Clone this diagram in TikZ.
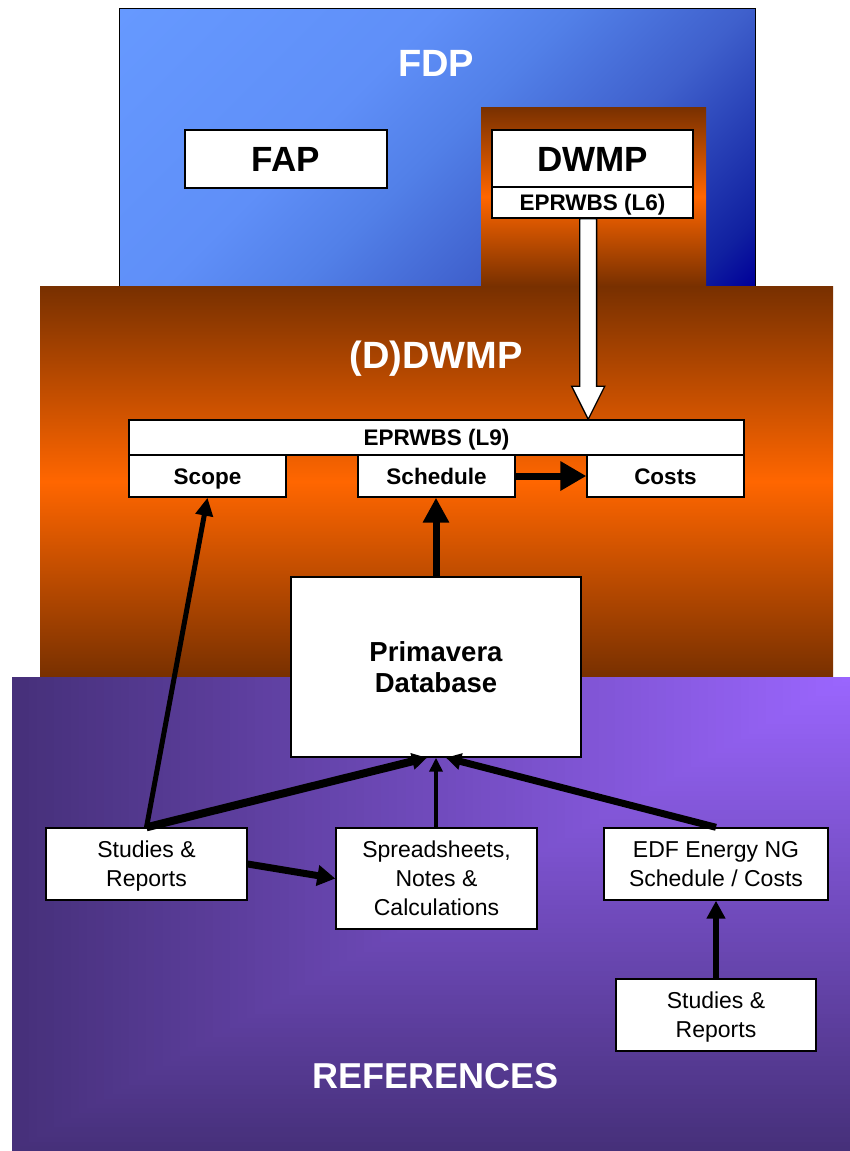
\documentclass[tikz,border=0pt]{standalone}
\usepackage{fontspec}
\setmainfont{Liberation Sans}
\usetikzlibrary{arrows.meta,calc}

\definecolor{brownD}{RGB}{120,48,0}
\definecolor{orangeM}{RGB}{255,102,0}
\definecolor{blueA}{RGB}{102,153,255}
\definecolor{blueB}{RGB}{95,143,248}
\definecolor{blueC}{RGB}{82,128,232}
\definecolor{blueE}{RGB}{63,96,204}
\definecolor{blueF}{RGB}{16,32,160}
\definecolor{blueG}{RGB}{0,0,153}
\definecolor{purpleL}{RGB}{155,102,255}
\definecolor{purpleD}{RGB}{70,48,122}

% diagonal blue gradient for the FDP panel
\pgfdeclarehorizontalshading{fdpshade}{100bp}{color(0bp)=(blueA); color(14.64bp)=(blueA);
  color(39.4bp)=(blueB); color(50bp)=(blueC); color(63.4bp)=(blueE);
  color(80.4bp)=(blueF); color(85.36bp)=(blueG); color(100bp)=(blueG)}

\newcommand\ftitle{\fontsize{38}{44}\selectfont\bfseries}
\newcommand\fhead{\fontsize{35}{40}\selectfont\bfseries}
\newcommand\fbar{\fontsize{22.5}{26}\selectfont\bfseries}
\newcommand\fprim{\fontsize{27.5}{31.5}\selectfont\bfseries}
\newcommand\fref{\fontsize{23}{28.8}\selectfont}

\begin{document}
\begin{tikzpicture}[x=1pt,y=-1pt,
  % text boxes run from the cap line of the first row to the baseline of the last,
  % so the lettering sits optically centred in each box
  box/.style={draw=black, line width=1.4pt, fill=white, inner sep=0pt, align=center,
    text depth=0pt},
  bhead/.style={box, font=\fhead, text height=25.1pt},
  bbar/.style={box, font=\fbar, text height=16.1pt},
  bprim/.style={box, font=\fprim, text height=51.2pt},
  bref/.style={box, font=\fref, text height=#1},
  title/.style={text=white, font=\ftitle, anchor=base, inner sep=0pt},
  hollow/.style={draw=black, line width=1.3pt, fill=white, line join=miter}]
\useasboundingbox (0,0) rectangle (850,1151);

% FDP panel
\path[shade, shading=fdpshade, shading angle=-45, draw=black, line width=1pt]
  (119,8) rectangle (755,286);
% orange notch and (D)DWMP panel
\fill[top color=brownD, bottom color=brownD, middle color=orangeM] (481,107) rectangle (706,286);
\fill[top color=brownD, bottom color=brownD, middle color=orangeM] (40,286) rectangle (833,677);
% REFERENCES panel: gradient spreading from the top right corner
\foreach \i in {100,99,...,1}{
  \fill[purpleD!\i!purpleL] ({850-8.38*\i},677) rectangle (850,{677+4.74*\i});
}

% panel titles
\node[title] (tfdp) at (436,76) {FDP};
\node[title] (tddwmp) at (436,368) {(D)DWMP};
\node[title, font=\fontsize{36}{42}\selectfont\bfseries] (tref) at (436,1088) {REFERENCES};

% boxes
\node[bhead, minimum width=202pt, minimum height=58pt] (fap) at (286,159) {FAP};
\node[bhead, minimum width=201pt, minimum height=57pt] (dwmp) at (592.5,158.5) {DWMP};
\node[bbar, minimum width=201pt, minimum height=31pt] (l6) at (592.5,202.5) {EPRWBS (L6)};

\node[bbar, minimum width=615pt, minimum height=35pt] (wbs) at (436.5,437.5) {EPRWBS (L9)};
\node[bbar, minimum width=157pt, minimum height=42pt] (scope) at (207.5,476) {Scope};
\node[bbar, minimum width=157pt, minimum height=42pt] (sched) at (436.5,476) {Schedule};
\node[bbar, minimum width=157pt, minimum height=42pt] (costs) at (665.5,476) {Costs};

\node[bprim, minimum width=290pt, minimum height=180pt] (prim) at (436,667) {Primavera\\Database};

\node[bref=45.3pt, minimum width=201pt, minimum height=72pt] (sr1) at (146.5,864) {Studies \&\\Reports};
\node[bref=74.1pt, minimum width=201pt, minimum height=101pt] (ssn) at (436.5,878.5) {Spreadsheets,\\Notes \&\\Calculations};
\node[bref=45.3pt, minimum width=224pt, minimum height=72pt] (edf) at (716,864) {EDF Energy NG\\Schedule / Costs};
\node[bref=45.3pt, minimum width=200pt, minimum height=72pt] (sr2) at (716,1015) {Studies \&\\Reports};

% hollow block arrow from the L6 breakdown down to the L9 breakdown
\coordinate (ht) at ($(l6.south)+(-4.3,0)$);
\coordinate (hb) at (ht |- wbs.north);
\draw[hollow] ($(ht)+(-8.4,0)$) -- ($(hb)+(-8.4,-33)$) -- ($(hb)+(-16.5,-33)$) -- (hb)
  -- ($(hb)+(16.5,-33)$) -- ($(hb)+(8.4,-33)$) -- ($(ht)+(8.4,0)$) -- cycle;

% connectors
\draw[line width=7pt, -{Triangle[length=26pt,width=28pt]}] (sched.east) -- (costs.west);
\draw[line width=7pt, -{Triangle[length=25pt,width=25pt]}] (prim.north) -- (prim.north |- sched.south);
\draw[line width=5pt, -{Triangle[length=18pt,width=17pt]}] (sr1.north) -- (scope.south);

\coordinate (pl) at ($(prim.south)+(-9,0)$);
\coordinate (pr) at ($(prim.south)+(10,0)$);
\draw[line width=8pt, -{Triangle[length=15pt,width=16pt]}] (sr1.north) -- (pl);
\draw[line width=4pt, -{Triangle[length=14pt,width=13pt]}] (ssn.north -| prim.south) -- (prim.south);
\draw[line width=7pt, -{Triangle[length=15pt,width=16pt]}] (edf.north) -- (pr);
\draw[line width=7pt, -{Triangle[length=18pt,width=20pt]}] (sr1.east) -- (ssn.west);
\draw[line width=6.5pt, -{Triangle[length=18pt,width=18pt]}] (sr2.north) -- (edf.south);
\end{tikzpicture}
\end{document}
